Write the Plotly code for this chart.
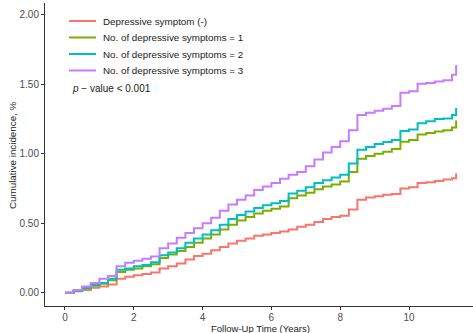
import plotly.graph_objects as go

times = [0, 0.25, 0.5, 0.75, 1.0, 1.25, 1.5, 1.75, 2.0, 2.25, 2.5, 2.75, 3.0, 3.25, 3.5, 3.75,
         4.0, 4.25, 4.5, 4.75, 5.0, 5.25, 5.5, 5.75, 6.0, 6.25, 6.5, 6.75, 7.0, 7.25, 7.5, 7.75,
         8.0, 8.25, 8.5, 8.75, 9.0, 9.25, 9.5, 9.75, 10.0, 10.25, 10.5, 10.75, 11.0, 11.25, 11.37]

sym0 = [0, 0.01, 0.02, 0.035, 0.045, 0.06, 0.10, 0.115, 0.125, 0.135, 0.145, 0.175, 0.19, 0.21, 0.24, 0.265,
        0.28, 0.305, 0.33, 0.355, 0.375, 0.39, 0.41, 0.42, 0.43, 0.44, 0.455, 0.475, 0.49, 0.51, 0.53, 0.545,
        0.555, 0.60, 0.67, 0.685, 0.695, 0.705, 0.71, 0.75, 0.76, 0.79, 0.795, 0.805, 0.815, 0.825, 0.86]

sym1 = [0, 0.013, 0.03, 0.05, 0.065, 0.09, 0.15, 0.165, 0.175, 0.19, 0.205, 0.25, 0.275, 0.30, 0.33, 0.36,
        0.39, 0.42, 0.455, 0.49, 0.52, 0.545, 0.57, 0.59, 0.605, 0.62, 0.68, 0.70, 0.72, 0.745, 0.765, 0.78,
        0.80, 0.87, 0.965, 0.985, 1.00, 1.015, 1.035, 1.087, 1.10, 1.14, 1.15, 1.16, 1.17, 1.19, 1.24]

sym2 = [0, 0.015, 0.035, 0.055, 0.07, 0.10, 0.165, 0.175, 0.19, 0.20, 0.22, 0.27, 0.29, 0.32, 0.36, 0.39,
        0.42, 0.45, 0.49, 0.53, 0.56, 0.585, 0.61, 0.63, 0.645, 0.66, 0.715, 0.735, 0.76, 0.79, 0.81, 0.83,
        0.85, 0.93, 1.03, 1.05, 1.07, 1.085, 1.10, 1.165, 1.175, 1.22, 1.235, 1.25, 1.255, 1.28, 1.33]

sym3 = [0, 0.02, 0.045, 0.07, 0.10, 0.12, 0.19, 0.215, 0.23, 0.245, 0.26, 0.32, 0.355, 0.395, 0.43, 0.465,
        0.50, 0.54, 0.59, 0.635, 0.67, 0.70, 0.74, 0.765, 0.79, 0.82, 0.85, 0.87, 0.91, 0.96, 1.01, 1.05,
        1.09, 1.17, 1.28, 1.295, 1.31, 1.325, 1.345, 1.44, 1.45, 1.505, 1.51, 1.52, 1.53, 1.57, 1.64]

names = ["Depressive symptom (-)", "No. of depressive symptoms = 1",
         "No. of depressive symptoms = 2", "No. of depressive symptoms = 3"]
colors = ["#F8766D", "#7CAE00", "#00BFC4", "#C77CFF"]
series = [sym0, sym1, sym2, sym3]

x_ticks = [0, 2, 4, 6, 8, 10]
y_ticks = [0.0, 0.5, 1.0, 1.5, 2.0]
y_tick_labels = ["0.00", "0.50", "1.00", "1.50", "2.00"]

W, H = 473, 333
L, R, T, B = 45, 0, 3, 27
pw, ph = W - L - R, H - T - B


def px(x):
    return (x - L) / pw


def py(y):
    return (H - B - y) / ph


fig = go.Figure()
for n, c, s in zip(names, colors, series):
    fig.add_trace(go.Scatter(x=times, y=s, mode="lines", name=n, showlegend=False,
                             line=dict(color=c, width=2, shape="hv")))

axis_common = dict(showgrid=False, zeroline=False, showline=True, linecolor="#333333", linewidth=1,
                   ticks="outside", ticklen=3, tickcolor="#333333", automargin=False,
                   tickfont=dict(size=10, color="#4d4d4d"))

shapes = []
annotations = []
row_y = [21, 37.5, 54, 70.5]
for n, c, yy in zip(names, colors, row_y):
    shapes.append(dict(type="line", xref="paper", yref="paper", x0=px(69), x1=px(96),
                       y0=py(yy), y1=py(yy), line=dict(color=c, width=2)))
    annotations.append(dict(x=px(101), y=py(yy), xref="paper", yref="paper", xanchor="left",
                            yanchor="middle", text=n, showarrow=False,
                            font=dict(size=9.8, color="#222222")))

annotations.append(dict(x=px(70), y=py(88.5), xref="paper", yref="paper", xanchor="left", yanchor="middle",
                        text="<i>p</i> \u2212 value < 0.001", showarrow=False,
                        font=dict(size=10, color="#222222")))
annotations.append(dict(x=px(260), y=py(328.5), xref="paper", yref="paper", xanchor="center",
                        yanchor="middle", text="Follow-Up Time (Years)", showarrow=False,
                        font=dict(size=9.5, color="#222222")))
annotations.append(dict(x=px(12), y=py(155), xref="paper", yref="paper", xanchor="center",
                        yanchor="middle", text="Cumulative incidence, %", showarrow=False, textangle=-90,
                        font=dict(size=9.8, color="#222222")))

fig.update_layout(
    width=W, height=H,
    margin=dict(l=L, r=R, t=T, b=B, autoexpand=False),
    plot_bgcolor="white", paper_bgcolor="white",
    font=dict(family="Liberation Sans, Arial, sans-serif", size=10, color="#222222"),
    xaxis=dict(range=[-0.581, 11.86], tickvals=x_ticks, ticklabelstandoff=-1, **axis_common),
    yaxis=dict(range=[-0.0957, 2.086], tickvals=y_ticks, ticktext=y_tick_labels, **axis_common),
    shapes=shapes,
    annotations=annotations,
)

fig.write_html("out.html", config={"displayModeBar": False},
               post_script="document.body.style.margin='0px';document.body.style.padding='0px';")
